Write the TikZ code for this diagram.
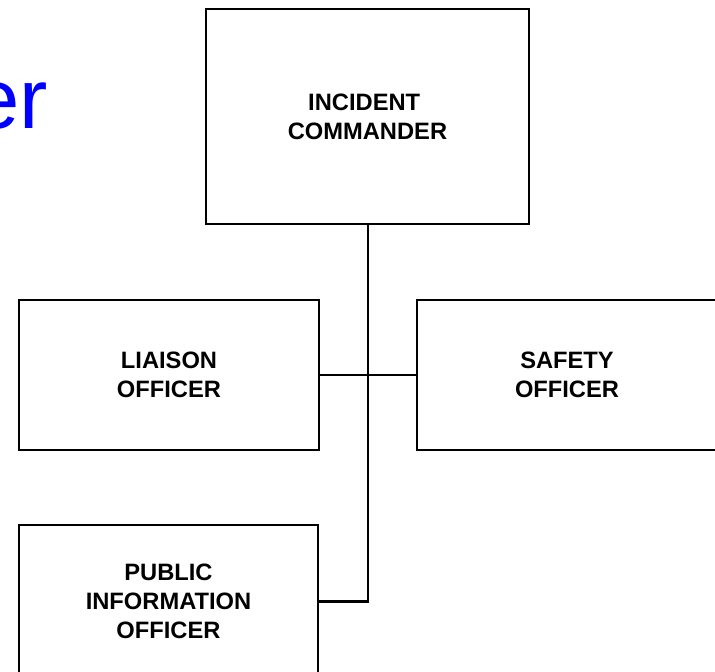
\documentclass[tikz,border=0pt]{standalone}
\usepackage{fontspec}
\setmainfont{Liberation Sans}
\begin{document}
\begin{tikzpicture}[x=1pt,y=-1pt,
  orgbox/.style={draw=black,line width=2.3pt,rectangle,inner sep=0pt,align=center,
    font=\bfseries\fontsize{23.7}{29}\selectfont},
  link/.style={draw=black,line width=2.2pt}]
\clip (0,0) rectangle (715,672);
\fill[white] (0,0) rectangle (715,672);
\node[anchor=base east,inner sep=0pt,text=blue,font=\fontsize{85}{90}\selectfont] (title) at (48,128) {er};
\node[orgbox,minimum width=323pt,minimum height=215pt,text depth=0pt] (ic) at (367.5,116.5) {INCIDENT\hspace*{6.6pt}\\COMMANDER};
\node[orgbox,minimum width=300pt,minimum height=150pt] (lo) at (169,375) {LIAISON\\OFFICER};
\node[orgbox,minimum width=300pt,minimum height=150pt] (so) at (567,375) {SAFETY\\OFFICER};
\node[orgbox,minimum width=299pt,minimum height=153pt] (pi) at (168.5,601.5) {PUBLIC\\INFORMATION\\OFFICER};
\coordinate (bend) at ([xshift=0.5pt]ic.south |- pi.east);
\draw[link] ([xshift=0.5pt]ic.south) -- (bend) -- (pi.east);
\draw[link] (lo.east) -- (so.west);
\end{tikzpicture}
\end{document}
